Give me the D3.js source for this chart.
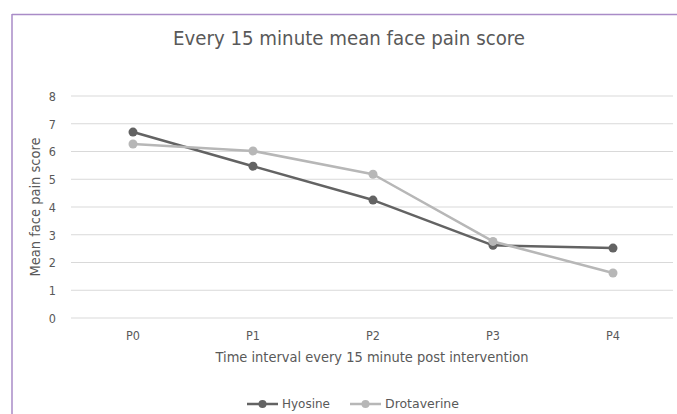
<!DOCTYPE html>
<html><head><meta charset="utf-8">
<script src="https://cdn.jsdelivr.net/npm/d3@7"></script>
<style>body{margin:0;background:#fff}svg{display:block}text{font-family:"Liberation Sans Narrow","DejaVu Sans Condensed","Open Sans",sans-serif;fill:#595959}</style>
</head><body>
<svg id="c" width="677" height="414"></svg>
<script>
const categories = ["P0","P1","P2","P3","P4"];
const hyosine = [6.7, 5.47, 4.25, 2.62, 2.52];
const drotaverine = [6.27, 6.02, 5.18, 2.76, 1.62];
const yTicks = [0,1,2,3,4,5,6,7,8];
const seriesNames = ["Hyosine","Drotaverine"];
const seriesColors = ["#636363","#b7b7b7"];

const svg = d3.select("#c");
// frame
svg.append("line").attr("x1",12).attr("x2",677).attr("y1",14.5).attr("y2",14.5).attr("stroke","#a98bc7").attr("stroke-width",1.5);
svg.append("line").attr("x1",12).attr("x2",12).attr("y1",14).attr("y2",414).attr("stroke","#a98bc7").attr("stroke-width",1.5);

const x = d3.scaleBand().domain(categories).range([73,673]);
const y = d3.scaleLinear().domain([0,8]).range([318,96]);

// gridlines
svg.append("g").selectAll("line").data(yTicks).join("line")
  .attr("x1",71).attr("x2",673).attr("y1",d=>y(d)).attr("y2",d=>y(d))
  .attr("stroke","#d9d9d9").attr("stroke-width",1);

// y axis labels
const yAxis = d3.axisLeft(y).tickValues(yTicks).tickSize(0).tickPadding(0);
const gy = svg.append("g").attr("transform","translate(56,0)").call(yAxis);
gy.select(".domain").remove();
gy.selectAll("text").attr("font-size",12.5).style("font-family",'"Liberation Sans Narrow","DejaVu Sans Condensed",sans-serif').attr("fill","#595959").attr("dy","0.35em").attr("text-anchor","end");

// x axis labels
const xAxis = d3.axisBottom(x).tickSize(0).tickPadding(0);
const gx = svg.append("g").attr("transform","translate(0,331)").call(xAxis);
gx.select(".domain").remove();
gx.selectAll("text").attr("font-size",12.5).style("font-family",'"Liberation Sans Narrow","DejaVu Sans Condensed",sans-serif').attr("fill","#595959");

// title
svg.append("text").attr("x",349).attr("y",45).attr("text-anchor","middle").attr("font-size",20)
  .attr("textLength",352).attr("lengthAdjust","spacingAndGlyphs").text("Every 15 minute mean face pain score");
// axis titles
svg.append("text").attr("x",372).attr("y",362).attr("text-anchor","middle").attr("font-size",14)
  .attr("textLength",313).attr("lengthAdjust","spacingAndGlyphs").text("Time interval every 15 minute post intervention");
svg.append("text").attr("transform","translate(40,207) rotate(-90)").attr("text-anchor","middle").attr("font-size",14)
  .attr("textLength",139).attr("lengthAdjust","spacingAndGlyphs").text("Mean face pain score");

// series
const line = d3.line().x((d,i)=>x(categories[i])+x.bandwidth()/2).y(d=>y(d));
const data = [hyosine, drotaverine];
[0,1].forEach(k=>{
  const g = svg.append("g");
  g.append("path").datum(data[k]).attr("d",line).attr("fill","none").attr("stroke",seriesColors[k]).attr("stroke-width",2.5).attr("stroke-linejoin","round");
  g.selectAll("circle").data(data[k]).join("circle")
    .attr("cx",(d,i)=>x(categories[i])+x.bandwidth()/2).attr("cy",d=>y(d)).attr("r",4.5).attr("fill",seriesColors[k]);
});

// legend
const legX = [247, 350];
const legendTextW = [48, 74];
seriesNames.forEach((n,k)=>{
  const g = svg.append("g").attr("transform",`translate(${legX[k]},404)`);
  g.append("line").attr("x1",0).attr("x2",31).attr("y1",0).attr("y2",0).attr("stroke",seriesColors[k]).attr("stroke-width",2.5);
  g.append("circle").attr("cx",15.5).attr("cy",0).attr("r",4).attr("fill",seriesColors[k]);
  g.append("text").attr("x",35).attr("y",0).attr("dy","0.35em").attr("font-size",12.5)
    .attr("textLength",legendTextW[k]).attr("lengthAdjust","spacingAndGlyphs").text(n);
});
</script>
</body></html>
